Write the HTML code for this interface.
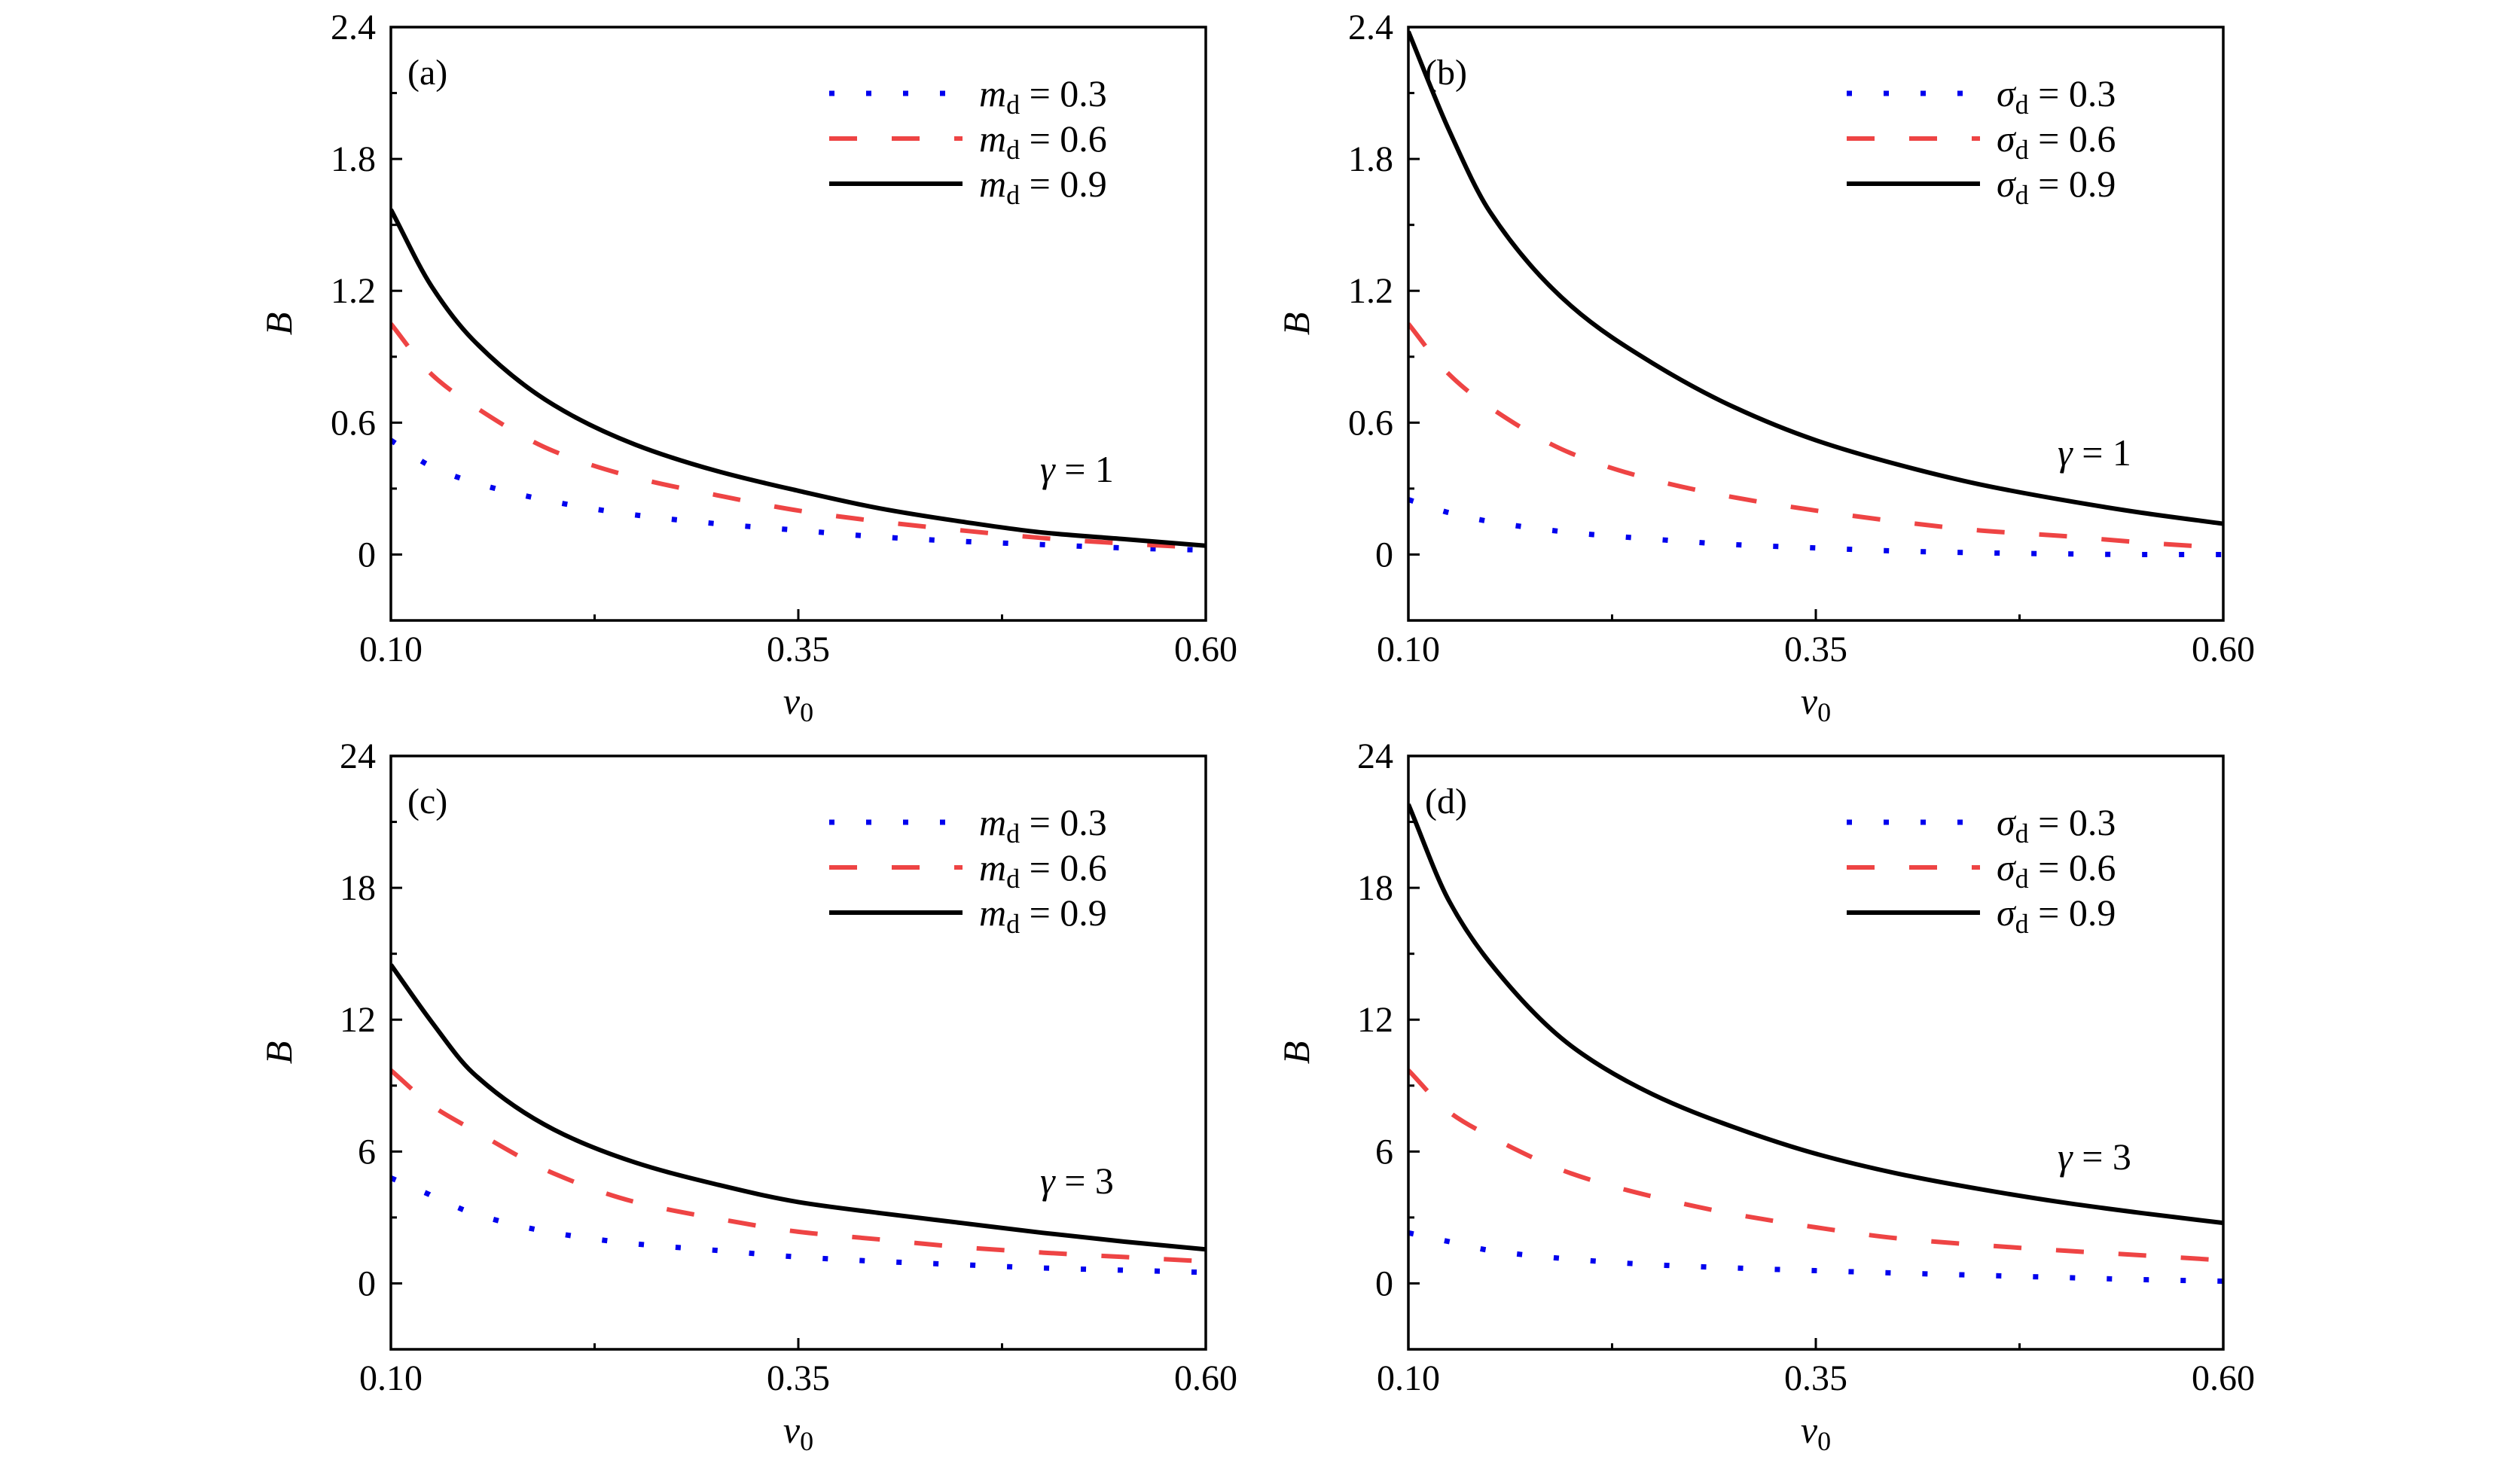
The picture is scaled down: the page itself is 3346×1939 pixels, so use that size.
<!DOCTYPE html>
<html><head><meta charset="utf-8"><style>
html,body{margin:0;padding:0;background:#fff;}
svg{display:block;font-family:"Liberation Serif",serif;}
</style></head><body>
<svg id="chart" width="3346" height="1939" viewBox="0 0 3346 1939" xmlns="http://www.w3.org/2000/svg"></svg>
<script>
const xValues = [0.10,0.125,0.15,0.20,0.25,0.30,0.35,0.40,0.45,0.50,0.55,0.60];
const xTicks = ["0.10","0.35","0.60"];
const yTicksTop = ["0","0.6","1.2","1.8","2.4"];
const yTicksBottom = ["0","6","12","18","24"];
const aBlue = [0.52,0.40,0.33,0.24,0.18,0.14,0.11,0.08,0.06,0.045,0.03,0.02];
const aRed = [1.05,0.82,0.68,0.47,0.35,0.27,0.20,0.15,0.11,0.075,0.05,0.03];
const aBlack = [1.57,1.22,0.98,0.68,0.50,0.38,0.29,0.21,0.15,0.10,0.07,0.04];
const bBlue = [0.25,0.19,0.15,0.10,0.07,0.045,0.03,0.016,0.008,0.003,0.0,0.0];
const bRed = [1.05,0.82,0.67,0.46,0.34,0.26,0.20,0.15,0.11,0.085,0.055,0.03];
const bBlack = [2.38,1.93,1.56,1.13,0.87,0.67,0.52,0.41,0.32,0.25,0.19,0.14];
const cBlue = [4.8,4.0,3.2,2.3,1.8,1.5,1.2,1.0,0.85,0.7,0.6,0.5];
const cRed = [9.7,8.1,7.0,5.0,3.7,2.95,2.35,2.0,1.65,1.4,1.2,1.0];
const cBlack = [14.5,11.9,9.6,7.0,5.5,4.5,3.7,3.2,2.75,2.3,1.9,1.55];
const dBlue = [2.3,1.9,1.5,1.1,0.85,0.7,0.58,0.47,0.37,0.27,0.17,0.1];
const dRed = [9.7,7.8,6.7,5.0,3.95,3.15,2.55,2.05,1.75,1.5,1.28,1.05];
const dBlack = [21.8,17.4,14.6,10.8,8.6,7.1,5.9,5.0,4.3,3.7,3.2,2.75];

const NS="http://www.w3.org/2000/svg";
const svg=document.getElementById('chart');
function mk(tag,attrs,parent){const e=document.createElementNS(NS,tag);for(const k in attrs)e.setAttribute(k,attrs[k]);(parent||svg).appendChild(e);return e;}

const W=1082,H=788;
const panels=[
 {id:'a',L:519,T:36,ymin:-0.3,ymax:2.4,yt:yTicksTop,ys:[aBlue,aRed,aBlack],sym:'m',gam:'1',gy:623},
 {id:'b',L:1870,T:36,ymin:-0.3,ymax:2.4,yt:yTicksTop,ys:[bBlue,bRed,bBlack],sym:'σ',gam:'1',gy:601},
 {id:'c',L:519,T:1004,ymin:-3,ymax:24,yt:yTicksBottom,ys:[cBlue,cRed,cBlack],sym:'m',gam:'3',gy:1568},
 {id:'d',L:1870,T:1004,ymin:-3,ymax:24,yt:yTicksBottom,ys:[dBlue,dRed,dBlack],sym:'σ',gam:'3',gy:1536}
];
const styles=[
 {stroke:'#0000ee',dash:'7 42',w:7,name:'series-0-3'},
 {stroke:'#ee4444',dash:'37 46',w:6,name:'series-0-6'},
 {stroke:'#000000',dash:'',w:6,name:'series-0-9'}
];
const legVals=['0.3','0.6','0.9'];

function monotonePath(pts){
 const n=pts.length, dx=[], s=[], m=[];
 for(let i=0;i<n-1;i++){dx[i]=pts[i+1][0]-pts[i][0];s[i]=(pts[i+1][1]-pts[i][1])/dx[i];}
 m[0]=s[0]; m[n-1]=s[n-2];
 for(let i=1;i<n-1;i++){ if(s[i-1]*s[i]<=0) m[i]=0; else { const w1=2*dx[i]+dx[i-1], w2=dx[i]+2*dx[i-1]; m[i]=(w1+w2)/(w1/s[i-1]+w2/s[i]); } }
 let d='M'+pts[0][0]+','+pts[0][1];
 for(let i=0;i<n-1;i++){
  const h=dx[i]/3;
  d+=' C'+(pts[i][0]+h)+','+(pts[i][1]+m[i]*h)+' '+(pts[i+1][0]-h)+','+(pts[i+1][1]-m[i+1]*h)+' '+pts[i+1][0]+','+pts[i+1][1];
 }
 return d;
}

panels.forEach(p=>{
 const g=mk('g',{});
 
 
 const xs=v=>p.L+(v-0.1)/0.5*W;
 const ys=v=>p.T+H-(v-p.ymin)/(p.ymax-p.ymin)*H;
 const cid='clip'+p.id;
 const cp=mk('clipPath',{id:cid},g);mk('rect',{x:p.L,y:p.T,width:W,height:H},cp);
 p.ys.forEach((arr,si)=>{
  const s=styles[si];
  const pts=xValues.map((x,i)=>[xs(x),ys(arr[i])]);
  const path=mk('path',{d:monotonePath(pts),fill:'none',stroke:s.stroke,'stroke-width':s.w,'stroke-dasharray':s.dash,'clip-path':'url(#'+cid+')'},g);
  
  
 });
 const fr=mk('rect',{x:p.L,y:p.T,width:W,height:H,fill:'none',stroke:'#000','stroke-width':3.5},g);
 
 
 const step=(p.ymax-p.ymin)/9;
 for(let k=0;k<9;k++){
  const y=ys(p.ymin+step*k);
  const major=(k%2===1);
  mk('line',{x1:p.L,x2:p.L+(major?15:8),y1:y,y2:y,stroke:'#000','stroke-width':3},g);
 }
 p.yt.forEach(t=>{
  const tx=mk('text',{x:p.L-20,y:ys(parseFloat(t))+16,'text-anchor':'end','font-size':48},g);
  tx.textContent=t;
  
  
 });
 [0.225,0.35,0.475].forEach((v,i)=>{
  mk('line',{x1:xs(v),x2:xs(v),y1:p.T+H,y2:p.T+H-(i===1?15:8),stroke:'#000','stroke-width':3},g);
 });
 xTicks.forEach(t=>{
  const tx=mk('text',{x:xs(parseFloat(t)),y:p.T+H+54,'text-anchor':'middle','font-size':48},g);
  tx.textContent=t;
  
  
 });
 const xt=mk('text',{x:p.L+W/2,y:p.T+H+124,'text-anchor':'middle','font-size':50,'font-style':'italic'},g);
 xt.innerHTML='v<tspan font-style="normal" font-size="36" dy="10">0</tspan>';
 
 
 const yt=mk('text',{x:0,y:0,'text-anchor':'middle','font-size':50,'font-style':'italic',transform:'translate('+(p.L-132)+','+(p.T+H/2)+') rotate(-90)'},g);
 yt.textContent='B';
 
 
 const pl=mk('text',{x:p.L+22,y:p.T+76,'font-size':48},g);
 pl.textContent='('+p.id+')';
 
 
 const gm=mk('text',{x:p.L+862,y:p.gy+17,'font-size':50},g);
 gm.innerHTML='<tspan font-style="italic">γ</tspan> = '+p.gam;
 
 
 styles.forEach((s,i)=>{
  const ly=p.T+88+i*60;
  const lg=mk('g',{},g);
  
  
  mk('line',{x1:p.L+582,x2:p.L+759,y1:ly,y2:ly,stroke:s.stroke,'stroke-width':s.w,'stroke-dasharray':s.dash},lg);
  const t=mk('text',{x:p.L+781,y:ly+17,'font-size':50},lg);
  t.innerHTML='<tspan font-style="italic">'+p.sym+'</tspan><tspan font-size="36" dy="10">d</tspan><tspan dy="-10"> = '+legVals[i]+'</tspan>';
 });
});
</script>
</body></html>
